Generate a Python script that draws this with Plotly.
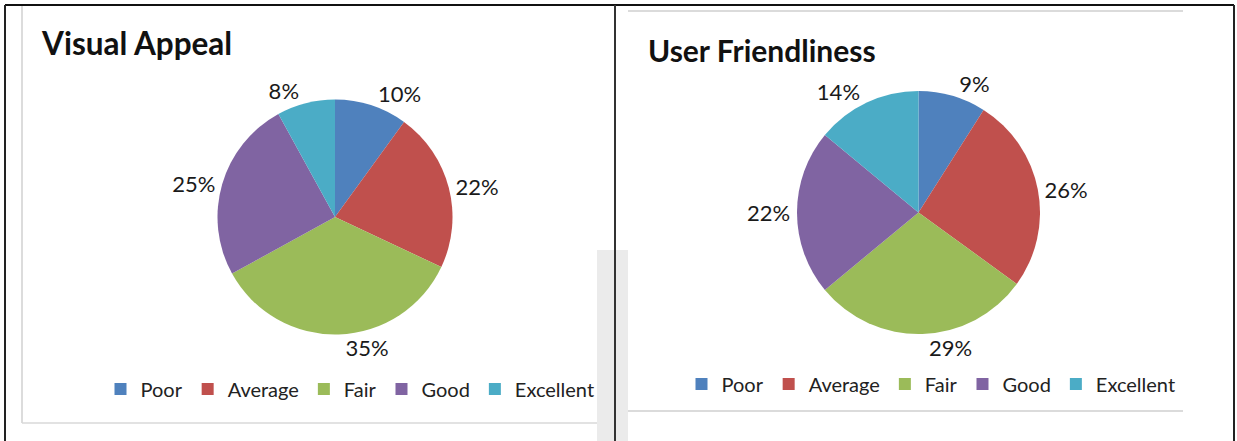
import plotly.graph_objects as go

W, H = 1237, 441

categories = ["Poor", "Average", "Fair", "Good", "Excellent"]
visual_appeal = [10, 22, 35, 25, 8]
user_friendliness = [9, 26, 29, 22, 14]
colors = ["#4F81BD", "#C0504D", "#9BBB59", "#8064A2", "#4BACC6"]
titles = ["Visual Appeal", "User Friendliness"]

FONT = "Lato, Carlito, Calibri, sans-serif"


def px_x(v):
    return v / W


def px_y(v):
    return 1 - v / H


def dom(cx, cy, r):
    return dict(x=[px_x(cx - r), px_x(cx + r)], y=[px_y(cy + r), px_y(cy - r)])


fig = go.Figure()

for vals, d in [(visual_appeal, dom(335, 217, 117.5)), (user_friendliness, dom(918.5, 212.5, 121.5))]:
    fig.add_trace(go.Pie(
        labels=categories, values=vals, sort=False, direction="clockwise",
        rotation=0, marker=dict(colors=colors), textposition="outside",
        texttemplate="%{value}%", textfont=dict(size=22, color="#1a1a1a", family=FONT),
        domain=d, showlegend=False, hoverinfo="label+value",
    ))

# legend entries (one legend per chart)
for leg in ["legend", "legend2"]:
    for cat, col in zip(categories, colors):
        fig.add_trace(go.Scatter(
            x=[None], y=[None], mode="markers", name=cat, legend=leg,
            marker=dict(symbol="square", size=12, color=col),
            showlegend=True, hoverinfo="skip",
        ))

shapes = []
# light grey gap strip between panels
shapes.append(dict(type="rect", xref="paper", yref="paper", x0=px_x(597), x1=px_x(628),
                   y0=px_y(441), y1=px_y(250), fillcolor="#ebebeb", line=dict(width=0), layer="below"))
# chart box borders (light grey)
shapes.append(dict(type="line", xref="paper", yref="paper", x0=px_x(22), x1=px_x(22),
                   y0=px_y(5), y1=px_y(423), line=dict(color="#d0d0d0", width=1.5)))
shapes.append(dict(type="line", xref="paper", yref="paper", x0=px_x(22), x1=px_x(597),
                   y0=px_y(423), y1=px_y(423), line=dict(color="#d8d8d8", width=1.5)))
shapes.append(dict(type="line", xref="paper", yref="paper", x0=px_x(628), x1=px_x(1183),
                   y0=px_y(11), y1=px_y(11), line=dict(color="#b8b8b8", width=1.2)))
shapes.append(dict(type="line", xref="paper", yref="paper", x0=px_x(628), x1=px_x(1183),
                   y0=px_y(411), y1=px_y(411), line=dict(color="#b8b8b8", width=1.2)))
# outer black table borders
shapes.append(dict(type="line", xref="paper", yref="paper", x0=px_x(5), x1=px_x(1234),
                   y0=px_y(5), y1=px_y(5), line=dict(color="#111111", width=2)))
shapes.append(dict(type="line", xref="paper", yref="paper", x0=px_x(5), x1=px_x(5),
                   y0=px_y(5), y1=px_y(441), line=dict(color="#222222", width=2)))
shapes.append(dict(type="line", xref="paper", yref="paper", x0=px_x(615), x1=px_x(615),
                   y0=px_y(5), y1=px_y(441), line=dict(color="#333333", width=2)))
shapes.append(dict(type="line", xref="paper", yref="paper", x0=px_x(1234), x1=px_x(1234),
                   y0=px_y(5), y1=px_y(441), line=dict(color="#222222", width=2)))

annotations = [
    dict(text="<b>" + titles[0] + "</b>", x=px_x(39), y=px_y(43), xref="paper", yref="paper",
         xanchor="left", yanchor="middle", showarrow=False,
         font=dict(size=31.5, color="#111111", family=FONT)),
    dict(text="<b>" + titles[1] + "</b>", x=px_x(646), y=px_y(50), xref="paper", yref="paper",
         xanchor="left", yanchor="middle", showarrow=False,
         font=dict(size=30, color="#111111", family=FONT)),
]

legend_common = dict(orientation="h", xanchor="center", yanchor="middle",
                     font=dict(size=20, color="#222222", family=FONT),
                     bgcolor="rgba(0,0,0,0)", itemwidth=30, tracegroupgap=0,
                     traceorder="normal", itemclick=False, itemdoubleclick=False)

fig.update_layout(
    width=W, height=H, margin=dict(l=0, r=0, t=0, b=0),
    paper_bgcolor="white", plot_bgcolor="rgba(0,0,0,0)",
    xaxis=dict(visible=False), yaxis=dict(visible=False),
    shapes=shapes, annotations=annotations,
    legend=dict(x=px_x(350), y=px_y(389), **legend_common),
    legend2=dict(x=px_x(931), y=px_y(384), **legend_common),
    showlegend=True,
)

fig.write_html("out.html")
